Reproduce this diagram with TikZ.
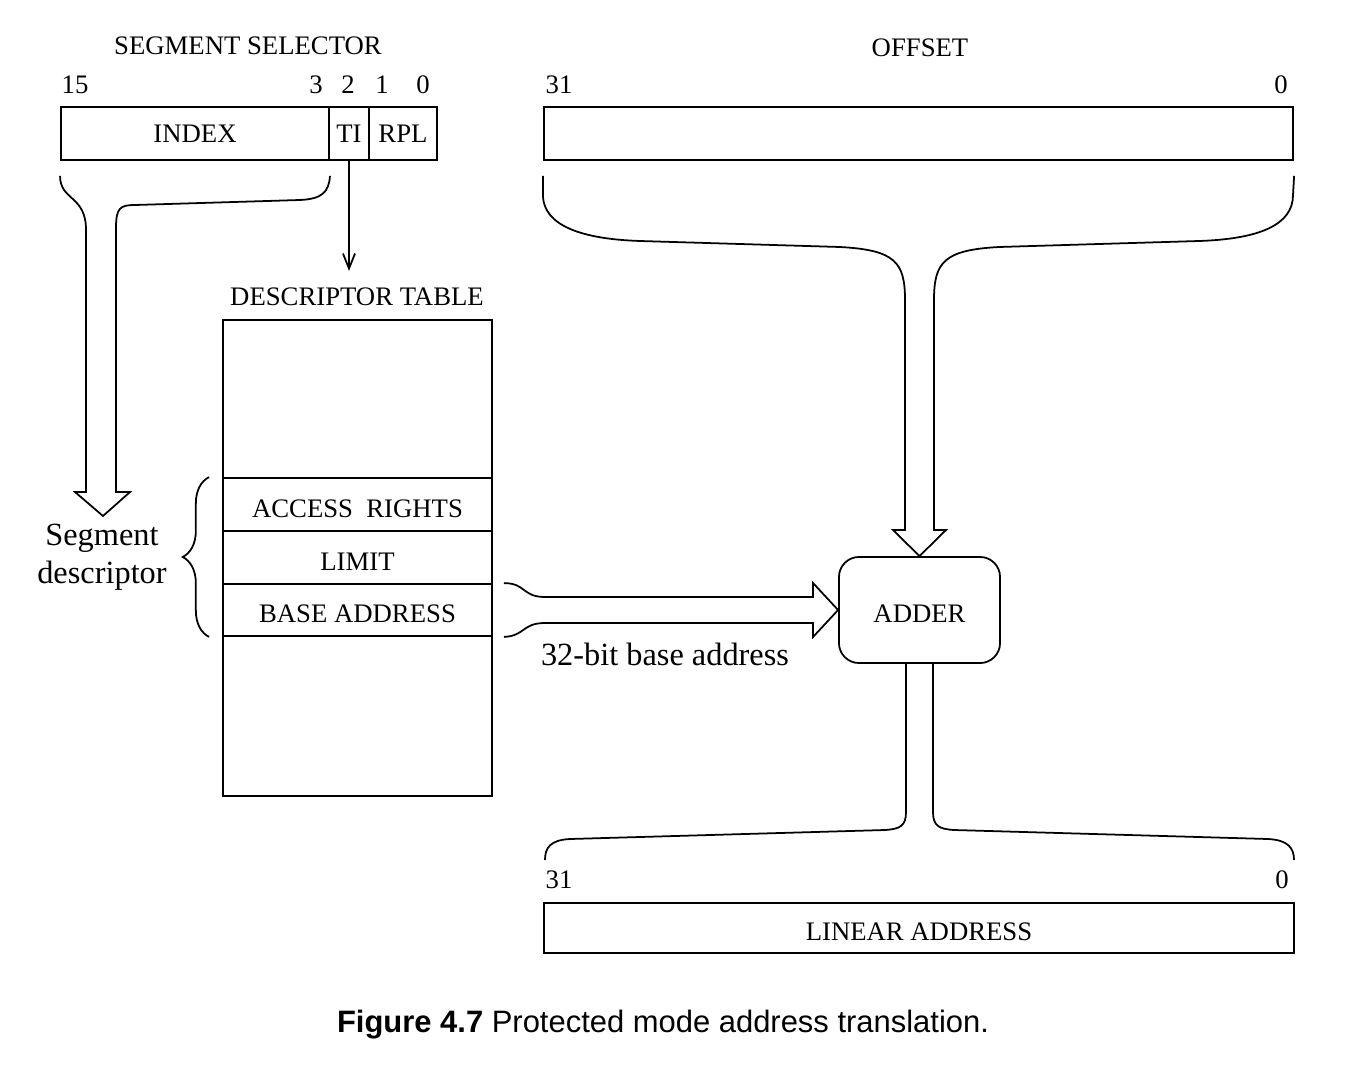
\documentclass[tikz,border=0pt]{standalone}
\usepackage{fontspec}
\setmainfont{Liberation Serif}
\newfontfamily\capfont{Liberation Sans}
\usetikzlibrary{positioning, calc, arrows.meta, decorations.pathreplacing}
\newcommand{\lblfont}{\fontsize{7.6}{9}\selectfont}
\newcommand{\bigfont}{\fontsize{9.2}{10.8}\selectfont}
\tikzset{
  field/.style={draw, line width=0.5pt, minimum height=0.53cm, inner sep=0, font=\lblfont},
  lowtext/.style={text height=7.2pt, text depth=0pt},
  plain/.style={inner sep=0, font=\lblfont},
  bus/.style={line width=0.5pt, line join=miter},
  adderbox/.style={draw, line width=0.5pt, rounded corners=0.2cm, minimum width=1.61cm,
    minimum height=1.06cm, font=\lblfont}
}

\begin{document}
\begin{tikzpicture}[x=0.01cm, y=-0.01cm]
\useasboundingbox (0,0) rectangle (1370,1070);

% segment selector
\node [plain] (selname) at (248,46) {SEGMENT SELECTOR};
\node [field, minimum width=2.68cm] (idx) at (195,133.5) {INDEX};
\node [field, minimum width=0.40cm] (ti) at (349,133.5) {TI};
\node [field, minimum width=0.68cm] (rpl) at (403,133.5) {RPL};
\node [plain] (b15) at (75,85) {15};
\node [plain] (b3) at (316,85) {3};
\node [plain] (b2) at (348,85) {2};
\node [plain] (b1) at (382,85) {1};
\node [plain] (b0) at (423,85) {0};

% offset
\node [plain] (offname) at (920,48) {OFFSET};
\node [field, minimum width=7.49cm] (offs) at (918.5,133.5) {};
\node [plain] (o31) at (559,85) {31};
\node [plain] (o0) at (1281,85) {0};

% descriptor table
\node [plain] (tblname) at (357,297) {DESCRIPTOR TABLE};
\node [field, minimum width=2.69cm, minimum height=1.58cm] (ttop) at (357.5,399) {};
\node [field, lowtext, minimum width=2.69cm] (acc) at (357.5,504.5) {ACCESS~~RIGHTS};
\node [field, lowtext, minimum width=2.69cm] (lim) at (357.5,557.5) {LIMIT};
\node [field, lowtext, minimum width=2.69cm, minimum height=0.52cm] (base) at (357.5,610) {BASE ADDRESS};
\node [field, minimum width=2.69cm, minimum height=1.60cm] (tbot) at (357.5,716) {};

\draw [bus, -{Straight Barb[length=1.5mm, width=1.2mm]}] (ti.south) -- ++(0,110);

% index -> segment descriptor
\coordinate (segtip) at (103,516);
\draw [bus] ($(idx.south west)+(0,15)$) .. controls +(0,25) and +(0,-35) .. (86,230)
  -- (86,492) -- (75,492) -- (segtip) -- (130,492) -- (116,492) -- (116,228)
  .. controls (116,208) and (120,205) .. (135,205) -- (300,200)
  .. controls (322,199) and (329,192) .. ($(idx.south east)+(0,15)$);
\node [plain, font=\bigfont, align=center] (segdesc) at (102,557) {Segment\\descriptor};
\draw [bus, decorate, decoration={brace, amplitude=7.5pt}]
  ($(base.south west)+(-13,0)$) -- ($(acc.north west)+(-13,0)$);

% adder
\node [adderbox, lowtext] (adder) at (919.5,610) {ADDER};

\draw [bus] ($(offs.south west)+(0,15)$) -- ++(0,20) .. controls (544,225) and (580,239) .. (640,241)
  -- (840,247) .. controls (895,250) and (905,262) .. (905,300) -- (905,530) -- (893,530)
  -- (adder.north) -- (946,530) -- (934,530) -- (934,300)
  .. controls (934,262) and (944,250) .. (999,247) -- (1199,241)
  .. controls (1259,239) and (1293,225) .. (1293,195) -- ($(offs.south east)+(0,15)$);

\draw [bus] ($(base.north east)+(11,0)$) .. controls +(22,0) and (522,597) .. (545,597)
  -- (813,597) -- (813,583) -- (adder.west) -- (813,637) -- (813,623) -- (545,623)
  .. controls (522,623) and (525,636) .. ($(base.south east)+(11,0)$);
\node [plain, font=\bigfont] (baselbl) at (665,654) {32-bit base address};

% linear address
\node [field, lowtext, minimum width=7.5cm, minimum height=0.5cm] (lin) at (919,928) {LINEAR ADDRESS};
\node [plain] (l31) at (559,880) {31};
\node [plain] (l0) at (1282,880) {0};

\draw [bus] ($(adder.south)+(-13.5,0)$) -- (906,812) .. controls (906,826) and (900,829) .. (885,830)
  -- (570,839) .. controls (550,840) and (545,848) .. (545,860);
\draw [bus] ($(adder.south)+(13.5,0)$) -- (933,812) .. controls (933,826) and (939,829) .. (954,830)
  -- (1268,839) .. controls (1288,840) and (1294,848) .. (1294,860);

\node [inner sep=0, font=\capfont\fontsize{8.8}{10}\selectfont] (cap) at (663,1025)
  {\textbf{Figure 4.7} Protected mode address translation.};

\end{tikzpicture}
\end{document}
